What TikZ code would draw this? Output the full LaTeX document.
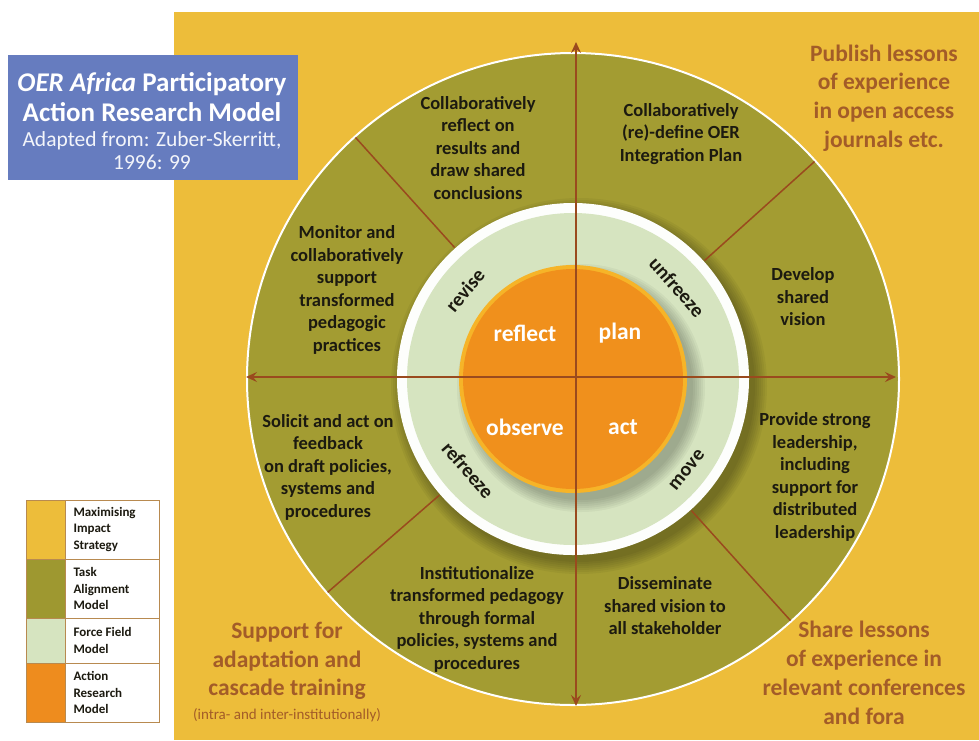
\documentclass[tikz,border=0pt]{standalone}
\usepackage{fontspec}
\setmainfont{Carlito}
\usetikzlibrary{arrows.meta}
\definecolor{bgyellow}{HTML}{EDBD3A}
\definecolor{olivering}{HTML}{A39C32}
\definecolor{lightgr}{HTML}{D6E4C0}
\definecolor{orangec}{HTML}{F0901C}
\definecolor{orangerim}{HTML}{F6B428}
\definecolor{brownline}{HTML}{9A4A1E}
\definecolor{browntext}{HTML}{A35C28}
\definecolor{bluebox}{HTML}{667CBF}
\definecolor{legolive}{HTML}{9E9830}
\definecolor{legorange}{HTML}{EE8C1E}
\definecolor{legborder}{HTML}{B88A50}
\definecolor{darktext}{HTML}{1C1A10}
\begin{document}
\begin{tikzpicture}[x=1pt,y=-1pt,
  olivetext/.style={align=center,text=darktext,font=\bfseries\fontsize{18.5}{22.5}\selectfont},
  yellowtext/.style={align=center,text=browntext,font=\bfseries\fontsize{23.5}{28.8}\selectfont},
  coretext/.style={text=white,font=\bfseries\fontsize{23.5}{26}\selectfont},
  ringtext/.style={text=darktext,font=\bfseries\fontsize{20}{22}\selectfont,inner sep=0pt},
  axisline/.style={brownline,line width=2.6pt,{Stealth[length=11pt,width=10pt,inset=4pt]}-{Stealth[length=11pt,width=10pt,inset=4pt]}},
  divline/.style={brownline,line width=1.5pt},
  legtext/.style={anchor=west,align=left,text=darktext,font=\bfseries\fontsize{13}{16.5}\selectfont},
  legbox/.style={draw=legborder,line width=0.8pt}]
\useasboundingbox (0,0) rectangle (979,740);
\fill[white] (0,0) rectangle (979,740);
\fill[bgyellow] (174,12) rectangle (979,740);

% ---- concentric discs ----
\begin{scope}[shift={(573,379)},x=1pt,y=1pt]
  \fill[olivering] (0,0) circle[radius=326];
  \draw[white,line width=2pt] (0,0) circle[radius=326];
  \foreach \k in {0,...,6} \fill[black,opacity=0.045] (6,-7) circle[radius=176+2*\k];
  \fill[white!96!lightgr] (0,0) circle[radius=176];
  \fill[lightgr] (0,0) circle[radius=166];
  \foreach \k in {0,...,6} \fill[black,opacity=0.04] (8,-9) circle[radius=112+2*\k];
  \fill[orangerim] (0,0) circle[radius=114];
  \fill[orangec] (0,0) circle[radius=110];
  % divider lines in olive ring
  \coordinate (d1a) at (42:177);  \coordinate (d1b) at (42:325);
  \coordinate (d2a) at (132:177); \coordinate (d2b) at (132:325);
  \coordinate (d3a) at (221:177); \coordinate (d3b) at (221:325);
  \coordinate (d4a) at (312:177); \coordinate (d4b) at (312:325);
  \draw[divline] (d1a) -- (d1b);
  \draw[divline] (d2a) -- (d2b);
  \draw[divline] (d3a) -- (d3b);
  \draw[divline] (d4a) -- (d4b);
  % axes
  \coordinate (axL) at (-327,2);
  \coordinate (axR) at (323,2);
  \coordinate (axT) at (3,337);
  \coordinate (axB) at (3,-327);
  \draw[axisline] (axL) -- (axR);
  \draw[axisline] (axB) -- (axT);
\end{scope}

% ---- ring labels ----
\node[ringtext,rotate=-48.5] (unfreeze) at (677,287) {unfreeze};
\node[ringtext,rotate=50.5] (revise) at (465,290) {revise};
\node[ringtext,rotate=-49] (refreeze) at (468,470) {refreeze};
\node[ringtext,rotate=51] (move) at (687,470) {move};

% ---- core labels ----
\node[coretext] (reflect) at (525,333) {reflect};
\node[coretext] (plan) at (620,333) {plan};
\node[coretext] (observe) at (525,427) {observe};
\node[coretext] (act) at (623,427) {act};

% ---- olive ring texts ----
\node[olivetext] (t1) at (478,148) {Collaboratively\\reflect on\\results and\\draw shared\\conclusions};
\node[olivetext] (t2) at (681,134) {Collaboratively\\(re)-define OER\\Integration Plan};
\node[olivetext] (t3) at (803,297) {Develop\\shared\\vision};
\node[olivetext] (t4) at (815,477) {Provide strong\\leadership,\\including\\support for\\distributed\\leadership};
\node[olivetext] (t5) at (665,606) {Disseminate\\shared vision to\\all stakeholder};
\node[olivetext] (t6) at (477,619) {Institutionalize\\transformed pedagogy\\through formal\\policies, systems and\\procedures};
\node[olivetext] (t7) at (328,467) {Solicit and act on\\feedback\\on draft policies,\\systems and\\procedures};
\node[olivetext] (t8) at (347,290) {Monitor and\\collaboratively\\support\\transformed\\pedagogic\\practices};

% ---- yellow area texts ----
\node[yellowtext] (y1) at (884,98) {Publish lessons\\of experience\\in open access\\journals etc.};
\node[yellowtext] (y2) at (287,661) {Support for\\adaptation and\\cascade training};
\node[text=browntext,font=\fontsize{15}{17}\selectfont] (y2b) at (287,715) {(intra- and inter-institutionally)};
\node[yellowtext] (y3) at (864,673) {Share lessons\\of experience in\\relevant conferences\\and fora};

% ---- title box ----
\fill[bluebox] (8,55) rectangle (298,180);
\node[text=white,align=center,font=\bfseries\fontsize{27}{30}\selectfont] (title) at (152,97)
  {\textit{OER Africa} Participatory\\Action Research Model};
\node[text=white!92!bluebox,align=center,font=\fontsize{21.5}{23}\selectfont] (sub) at (152,151)
  {Adapted from: Zuber-Skerritt,\\1996: 99};

% ---- legend ----
\fill[white] (26,500) rectangle (159,722);
\fill[bgyellow] (26,500) rectangle (65,559);
\fill[legolive] (26,559) rectangle (65,618);
\fill[lightgr] (26,618) rectangle (65,663);
\fill[legorange] (26,663) rectangle (65,722);
\draw[legbox] (26,500) rectangle (159,722);
\draw[legbox] (65,500) -- (65,722);
\draw[legbox] (26,559) -- (159,559);
\draw[legbox] (26,618) -- (159,618);
\draw[legbox] (26,663) -- (159,663);
\node[legtext] (l1) at (70,529.5) {Maximising\\Impact\\Strategy};
\node[legtext] (l2) at (70,588.5) {Task\\Alignment\\Model};
\node[legtext] (l3) at (70,640.5) {Force Field\\Model};
\node[legtext] (l4) at (70,692.5) {Action\\Research\\Model};
\end{tikzpicture}
\end{document}
